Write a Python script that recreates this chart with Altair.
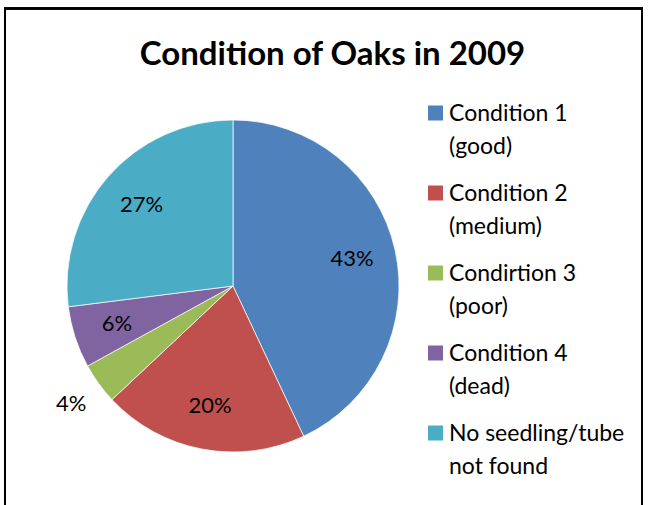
import altair as alt
import pandas as pd

categories = ["Condition 1 (good)", "Condition 2 (medium)", "Condirtion 3 (poor)",
              "Condition 4 (dead)", "No seedling/tube not found"]
legend_text = ["Condition 1\n(good)", "Condition 2\n(medium)", "Condirtion 3\n(poor)",
               "Condition 4\n(dead)", "No seedling/tube\nnot found"]
values = [43, 20, 4, 6, 27]
pct_labels = ["43%", "20%", "4%", "6%", "27%"]
colors = ["#4F81BD", "#C0504D", "#9BBB59", "#8064A2", "#4BACC6"]

df = pd.DataFrame({
    "cat": categories,
    "legend": legend_text,
    "value": values,
    "label": pct_labels,
    "order": list(range(len(categories))),
})

FONT = "Lato"
TOP = 8
CX, CY = 233, 286 - TOP
R = 166

base = alt.Chart(df)
color = alt.Color("cat:N", scale=alt.Scale(domain=categories, range=colors), legend=None)
theta = alt.Theta("value:Q", stack=True)

pie = base.mark_arc(outerRadius=R, stroke="white", strokeWidth=0.7).encode(
    theta=theta, color=color, order=alt.Order("order:Q"),
    x=alt.value(CX), y=alt.value(CY),
)

inside = base.mark_text(radius=122, fontSize=22, font=FONT, color="black").encode(
    theta=theta, detail="cat:N", order=alt.Order("order:Q"),
    text=alt.condition("datum.value >= 5", "label:N", alt.value("")),
    x=alt.value(CX), y=alt.value(CY),
)
outside = base.mark_text(radius=200, fontSize=22, font=FONT, color="black").encode(
    theta=theta, detail="cat:N", order=alt.Order("order:Q"),
    text=alt.condition("datum.value < 5", "label:N", alt.value("")),
    x=alt.value(CX), y=alt.value(CY),
)

ypos = alt.Y("cat:N", scale=alt.Scale(type="point", domain=categories,
                                      range=[113 - TOP, 433 - TOP], padding=0), axis=None)
leg_sym = base.mark_square(size=225, opacity=1, filled=True).encode(
    y=ypos, x=alt.value(435.5), color=color,
)
leg_txt = base.mark_text(align="left", baseline="alphabetic", lineBreak="\n",
                         lineHeight=33, fontSize=23, font=FONT, color="black", dy=8).encode(
    y=ypos, x=alt.value(449), text="legend:N",
)

frame = base.mark_rect(fill=None, stroke="black", strokeWidth=2, filled=False).encode(
    x=alt.value(5), x2=alt.value(642), y=alt.value(0.5), y2=alt.value(700),
)

chart = alt.layer(frame, pie, inside, outside, leg_sym, leg_txt).properties(
    width=653, height=505 - TOP,
    padding={"left": 0, "top": TOP, "right": 0, "bottom": 0},
    autosize=alt.AutoSizeParams(type="none"),
    title=alt.Title("Condition of Oaks in 2009", font=FONT, fontSize=33,
                    fontWeight="bold", color="black", anchor="middle",
                    baseline="alphabetic", frame="group", offset=-90, dx=6),
).configure_view(stroke=None)

chart.save("out.html", embed_options={"renderer": "svg", "actions": False})
